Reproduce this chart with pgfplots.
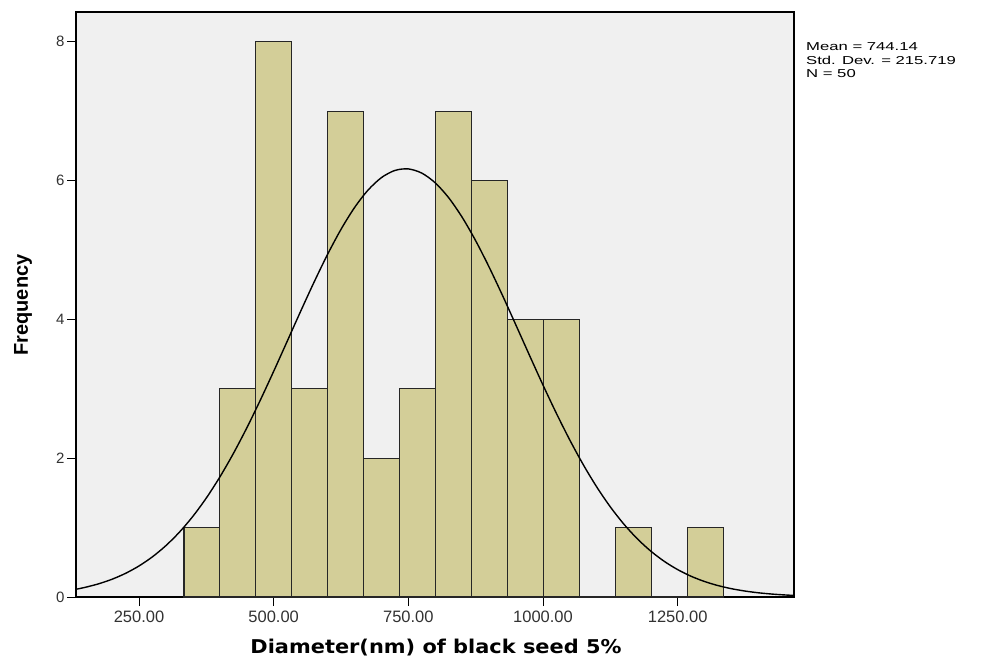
\documentclass[border=0pt]{standalone}
\usepackage{pgfplots}
\pgfplotsset{compat=1.18}
\usepackage{graphicx}
\usepackage{fontspec}
\setmainfont{Liberation Sans}
\newfontfamily\djv{DejaVu Sans}
\definecolor{bgcol}{RGB}{240,240,240}
\definecolor{barcol}{RGB}{211,206,152}
\definecolor{tickcol}{RGB}{50,50,50}
\begin{document}
\begin{tikzpicture}
\path[use as bounding box] (0,0) rectangle (984pt,657pt);
\begin{axis}[
  at={(76pt,60pt)}, anchor=south west,
  width=718pt, height=585pt, scale only axis,
  xmin=133, xmax=1466, ymin=0, ymax=8.43,
  axis background/.style={fill=bgcol},
  axis line style={black, line width=1.2pt},
  xtick={250,500,750,1000,1250},
  xticklabels={250.00,500.00,750.00,1000.00,1250.00},
  ytick={0,2,4,6,8},
  /pgf/number format/assume math mode=true,
  tick align=outside,
  xtick pos=bottom, ytick pos=left,
  major tick length=9pt,
  tick style={black, line width=1pt},
  x tick label style={font=\fontsize{16.5}{18}\selectfont, text=tickcol, yshift=-1pt},
  y tick label style={font=\fontsize{15}{17}\selectfont, text=tickcol, xshift=1pt},
  clip=true,
]
\addplot[ybar interval, fill=barcol, draw=black!85, line width=1.1pt] coordinates {
 (333.50,1) (400.24,3) (466.98,8) (533.72,3) (600.46,7) (667.20,2)
 (733.94,3) (800.68,7) (867.42,6) (934.16,4) (1000.90,4) (1067.64,0)
 (1134.38,1) (1201.12,0) (1267.86,1) (1334.60,1)
};
\addplot[black, line width=1.4pt, smooth, mark=none] coordinates {
 (133,0.1116) (150,0.1391) (175,0.1901) (200,0.2563) (225,0.3410)
 (250,0.4476) (275,0.5798) (300,0.7411) (325,0.9344) (350,1.1626)
 (375,1.4273) (400,1.7287) (425,2.0658) (450,2.4357) (475,2.8338)
 (500,3.2525) (525,3.6835) (550,4.1161) (575,4.5377) (600,4.9364)
 (625,5.2982) (650,5.6105) (675,5.8620) (700,6.0431) (725,6.1467)
 (750,6.1687) (775,6.1082) (800,5.9676) (825,5.7523) (850,5.4710)
 (875,5.1339) (900,4.7534) (925,4.3423) (950,3.9139) (975,3.4808)
 (1000,3.0540) (1025,2.6441) (1050,2.2585) (1075,1.9034) (1100,1.5828)
 (1125,1.2986) (1150,1.0514) (1175,0.8396) (1200,0.6617) (1225,0.5144)
 (1250,0.3948) (1275,0.2987) (1300,0.2231) (1325,0.1644) (1350,0.1195)
 (1375,0.0858) (1400,0.0607) (1425,0.0424) (1450,0.0292) (1466,0.0228)
};
\end{axis}
\node[anchor=base, inner sep=0pt] at (436pt,4pt)
  {\scalebox{1.1}[1]{\djv\bfseries\fontsize{19}{21}\selectfont Diameter(nm) of black seed 5\%}};
\node[rotate=90, anchor=base, inner sep=0pt] at (28pt,352pt)
  {\bfseries\fontsize{20}{22}\selectfont Frequency};
\node[anchor=base west, inner sep=0pt] at (806pt,606pt)
  {\scalebox{1.45}[1]{\fontsize{11.5}{13}\selectfont Mean = 744.14}};
\node[anchor=base west, inner sep=0pt] at (806pt,592.5pt)
  {\scalebox{1.45}[1]{\fontsize{11.5}{13}\selectfont Std. Dev. = 215.719}};
\node[anchor=base west, inner sep=0pt] at (806pt,579pt)
  {\scalebox{1.45}[1]{\fontsize{11.5}{13}\selectfont N = 50}};
\end{tikzpicture}
\end{document}
